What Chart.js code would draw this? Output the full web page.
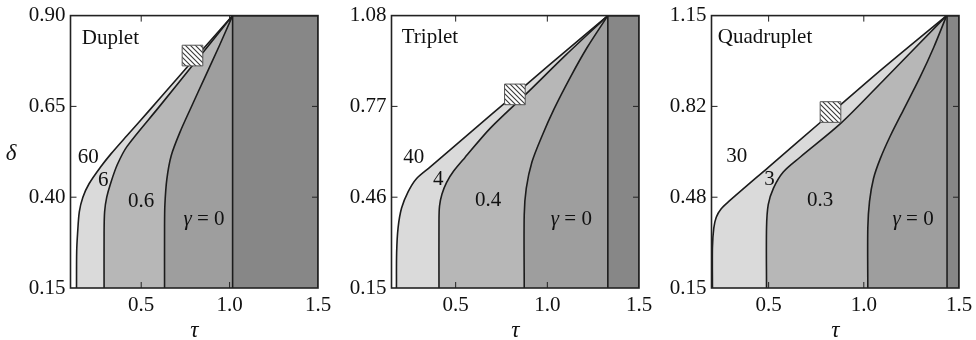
<!DOCTYPE html>
<html lang="en">
<head>
<meta charset="UTF-8">
<title>Duplet / Triplet / Quadruplet</title>
<script src="https://cdn.jsdelivr.net/npm/chart.js"></script>
<style>
  body { margin: 0; background: #fff; }
  .panel { position: absolute; top: 0; width: 340px; height: 340px; }
</style>
</head>
<body>
<div class="panel" style="left:0"><canvas id="duplet"></canvas></div>
<div class="panel" style="left:321px"><canvas id="triplet"></canvas></div>
<div class="panel" style="left:641px"><canvas id="quadruplet"></canvas></div>

<script>
// tick labels
const xTicks = [0.5, 1.0, 1.5];
const yTicksDuplet = [0.15, 0.40, 0.65, 0.90];
const yTicksTriplet = [0.15, 0.46, 0.77, 1.08];
const yTicksQuadruplet = [0.15, 0.4833, 0.8167, 1.15];

// boundary curves, [tau, delta]
const duplet60 = [[0.134,0.15],[0.135,0.25],[0.14,0.30],[0.15,0.36],[0.17,0.40],[0.205,0.437],[0.27,0.483],[0.33,0.52],[0.42,0.57],[0.546,0.639],[0.70,0.725],[0.85,0.808],[1.017,0.90]];
const duplet6 = [[0.29,0.15],[0.29,0.30],[0.293,0.36],[0.305,0.40],[0.328,0.44],[0.365,0.49],[0.42,0.54],[0.60,0.648],[0.80,0.769],[1.017,0.90]];
const duplet06 = [[0.632,0.15],[0.632,0.32],[0.634,0.38],[0.645,0.45],[0.67,0.515],[0.72,0.58],[0.78,0.645],[0.86,0.73],[0.94,0.815],[1.017,0.90]];
const duplet0 = [[1.017,0.15],[1.017,0.90]];

const triplet40 = [[0.177,0.15],[0.178,0.27],[0.186,0.356],[0.205,0.423],[0.241,0.479],[0.287,0.524],[0.36,0.563],[0.50,0.638],[0.70,0.745],[0.90,0.852],[1.10,0.959],[1.33,1.08]];
const triplet4 = [[0.409,0.15],[0.409,0.38],[0.412,0.43],[0.425,0.47],[0.45,0.51],[0.49,0.55],[0.55,0.595],[0.688,0.695],[0.88,0.81],[1.10,0.945],[1.33,1.08]];
const triplet04 = [[0.874,0.15],[0.874,0.40],[0.885,0.49],[0.916,0.58],[0.971,0.669],[1.035,0.759],[1.126,0.87],[1.217,0.971],[1.33,1.08]];
const triplet0 = [[1.33,0.15],[1.33,1.08]];

const quad30 = [[0.205,0.15],[0.205,0.30],[0.212,0.37],[0.225,0.41],[0.25,0.44],[0.288,0.466],[0.50,0.594],[0.80,0.775],[1.10,0.956],[1.435,1.15]];
const quad3 = [[0.489,0.15],[0.489,0.37],[0.498,0.456],[0.525,0.516],[0.577,0.576],[0.665,0.63],[0.88,0.755],[1.10,0.91],[1.435,1.15]];
const quad03 = [[1.021,0.15],[1.021,0.37],[1.03,0.468],[1.051,0.552],[1.086,0.624],[1.139,0.708],[1.209,0.805],[1.296,0.925],[1.367,1.033],[1.435,1.15]];
const quad0 = [[1.437,0.15],[1.437,1.15]];

// hatched marker
const markDuplet = [0.79, 0.79];
const markTriplet = [0.823, 0.811];
const markQuad = [0.825, 0.796];

const gammaDuplet = ['60', '6', '0.6'];
const gammaTriplet = ['40', '4', '0.4'];
const gammaQuad = ['30', '3', '0.3'];

const shades = ['#dadada', '#b7b7b7', '#9e9e9e', '#878787'];
const serif = '"Liberation Serif", "Times New Roman", serif';

function hatch() {
    const c = document.createElement('canvas');
    c.width = c.height = 5;
    const g = c.getContext('2d');
    g.fillStyle = '#fff';
    g.fillRect(0, 0, 5, 5);
    g.strokeStyle = '#3a3a3a';
    g.lineWidth = 1.1;
    g.beginPath();
    g.moveTo(0, 0); g.lineTo(5, 5);
    g.moveTo(-1, 4); g.lineTo(1, 6);
    g.moveTo(4, -1); g.lineTo(6, 1);
    g.stroke();
    return g.createPattern(c, 'repeat');
}

const pts = arr => arr.map(p => ({x: p[0], y: p[1]}));

const decor = {
    id: 'decor',
    afterDatasetsDraw(chart, args, o) {
        const {ctx, chartArea: a, scales: {x, y}} = chart;
        ctx.save();
        ctx.strokeStyle = '#222';
        ctx.lineWidth = 1;
        ctx.beginPath();
        xTicks.forEach(v => {
            if (v <= x.min || v >= x.max) return;
            const px = x.getPixelForValue(v);
            ctx.moveTo(px, a.bottom); ctx.lineTo(px, a.bottom - 6);
            ctx.moveTo(px, a.top); ctx.lineTo(px, a.top + 6);
        });
        o.yTicks.forEach(v => {
            if (v <= y.min || v >= y.max) return;
            const py = y.getPixelForValue(v);
            ctx.moveTo(a.left, py); ctx.lineTo(a.left + 6, py);
            ctx.moveTo(a.right, py); ctx.lineTo(a.right - 6, py);
        });
        ctx.stroke();
        ctx.lineWidth = 1.6;
        ctx.strokeRect(a.left, a.top, a.right - a.left, a.bottom - a.top);

        ctx.fillStyle = '#111';
        ctx.textBaseline = 'middle';
        ctx.font = '21px ' + serif;
        ctx.textAlign = 'left';
        ctx.fillText(o.name, x.getPixelForValue(o.namePos[0]), y.getPixelForValue(o.namePos[1]));

        ctx.textAlign = 'center';
        o.gammas.forEach((t, i) => {
            const p = o.gammaPos[i];
            ctx.fillText(t, x.getPixelForValue(p[0]), y.getPixelForValue(p[1]));
        });

        // gamma = 0
        const gx = x.getPixelForValue(o.zeroPos[0]);
        const gy = y.getPixelForValue(o.zeroPos[1]);
        ctx.font = 'italic 21px ' + serif;
        const wg = ctx.measureText('γ').width;
        ctx.font = '21px ' + serif;
        const wr = ctx.measureText(' = 0').width;
        ctx.textAlign = 'left';
        ctx.font = 'italic 21px ' + serif;
        ctx.fillText('γ', gx - (wg + wr) / 2, gy);
        ctx.font = '21px ' + serif;
        ctx.fillText(' = 0', gx - (wg + wr) / 2 + wg, gy);

        // axis titles
        ctx.textAlign = 'center';
        ctx.font = 'italic 23px ' + serif;
        ctx.fillText('τ', (a.left + a.right) / 2, 331);
        if (o.delta) ctx.fillText('δ', 11, 154);
        ctx.restore();
    }
};

function makePanel(id, p) {
    const curveSet = (data, color, order, tension) => ({
        data: pts(data),
        borderColor: '#1c1c1c',
        borderWidth: 1.6,
        backgroundColor: color,
        fill: 'start',
        pointRadius: 0,
        tension: tension,
        order: order
    });
    const rightEdge = p.curves[3].concat([[1.5, p.yMax], [1.5, p.yMin]]);
    new Chart(document.getElementById(id), {
        type: 'line',
        data: {
            datasets: [
                {
                    data: pts([p.mark]),
                    showLine: false,
                    pointStyle: 'rect',
                    pointRadius: 14.6,
                    pointBackgroundColor: hatch(),
                    pointBorderColor: '#555',
                    pointBorderWidth: 1,
                    order: 0
                },
                curveSet(rightEdge, shades[3], 1, 0),
                curveSet(p.curves[2], shades[2], 2, 0.3),
                curveSet(p.curves[1], shades[1], 3, 0.3),
                curveSet(p.curves[0], shades[0], 4, 0.3)
            ]
        },
        options: {
            responsive: true,
            maintainAspectRatio: false,
            animation: false,
            layout: { padding: { left: 0, right: 22, top: 11, bottom: 0 } },
            plugins: {
                legend: { display: false },
                tooltip: { enabled: false },
                decor: {
                    name: p.name, namePos: p.namePos,
                    gammas: p.gammas, gammaPos: p.gammaPos,
                    zeroPos: p.zeroPos, yTicks: p.yTicks, delta: p.delta
                }
            },
            scales: {
                x: {
                    type: 'linear',
                    min: p.xMin, max: 1.5,
                    grid: { display: false, drawTicks: false },
                    border: { display: false },
                    afterBuildTicks: s => { s.ticks = xTicks.map(v => ({value: v})); },
                    afterFit: s => { s.height = 52; },
                    ticks: {
                        padding: 7,
                        color: '#111',
                        font: { family: serif, size: 21, lineHeight: 1 },
                        callback: v => v.toFixed(1)
                    }
                },
                y: {
                    type: 'linear',
                    min: p.yMin, max: p.yMax,
                    grid: { display: false, drawTicks: false },
                    border: { display: false },
                    afterBuildTicks: s => { s.ticks = p.yTicks.map(v => ({value: v})); },
                    afterFit: s => { s.width = 70.5; },
                    ticks: {
                        padding: 5,
                        color: '#111',
                        font: { family: serif, size: 21, lineHeight: 1 },
                        callback: v => v.toFixed(2)
                    }
                }
            }
        },
        plugins: [decor]
    });
}

makePanel('duplet', {
    name: 'Duplet', delta: true,
    xMin: 0.1, yMin: 0.15, yMax: 0.90, yTicks: yTicksDuplet,
    curves: [duplet60, duplet6, duplet06, duplet0],
    mark: markDuplet,
    gammas: gammaDuplet,
    namePos: [0.164, 0.838],
    gammaPos: [[0.2, 0.51], [0.285, 0.446], [0.5, 0.388]],
    zeroPos: [0.855, 0.339]
});

makePanel('triplet', {
    name: 'Triplet', delta: false,
    xMin: 0.15, yMin: 0.15, yMax: 1.08, yTicks: yTicksTriplet,
    curves: [triplet40, triplet4, triplet04, triplet0],
    mark: markTriplet,
    gammas: gammaTriplet,
    namePos: [0.206, 1.006],
    gammaPos: [[0.272, 0.597], [0.405, 0.519], [0.677, 0.449]],
    zeroPos: [1.131, 0.385]
});

makePanel('quadruplet', {
    name: 'Quadruplet', delta: false,
    xMin: 0.2, yMin: 0.15, yMax: 1.15, yTicks: yTicksQuadruplet,
    curves: [quad30, quad3, quad03, quad0],
    mark: markQuad,
    gammas: gammaQuad,
    namePos: [0.233, 1.071],
    gammaPos: [[0.333, 0.634], [0.505, 0.547], [0.77, 0.471]],
    zeroPos: [1.259, 0.403]
});
</script>
</body>
</html>
